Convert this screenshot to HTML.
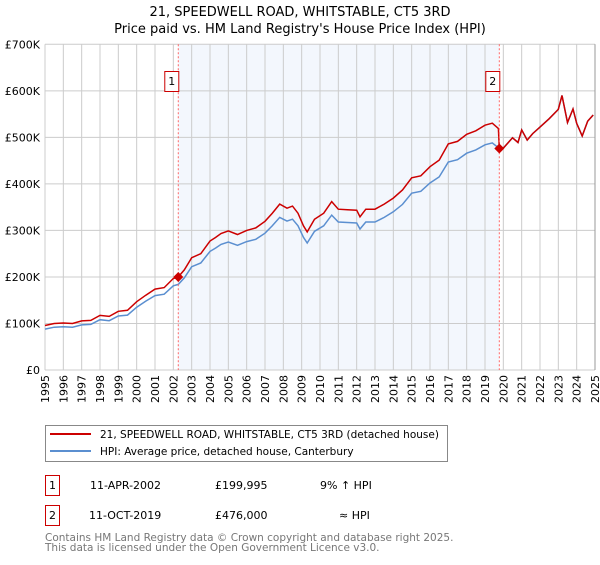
<!DOCTYPE html>
<html><head><meta charset="utf-8"><style>
body{margin:0;background:#fff;width:600px;height:560px;overflow:hidden}
svg{font-family:"DejaVu Sans","Liberation Sans",sans-serif}
</style></head><body>
<svg id="chart" width="600" height="560" xmlns="http://www.w3.org/2000/svg">
<text x="300" y="16" text-anchor="middle" font-size="13">21, SPEEDWELL ROAD, WHITSTABLE, CT5 3RD</text>
<text x="300" y="33" text-anchor="middle" font-size="13">Price paid vs. HM Land Registry's House Price Index (HPI)</text>
<g id="plot"></g>
<g>
<rect x="45.5" y="425.5" width="402" height="36" fill="#fff" stroke="#888"/>
<line x1="50" y1="434" x2="91" y2="434" stroke="#cc0000" stroke-width="2"/>
<text x="100" y="438" font-size="10.5">21, SPEEDWELL ROAD, WHITSTABLE, CT5 3RD (detached house)</text>
<line x1="50" y1="451" x2="91" y2="451" stroke="#5b8fd0" stroke-width="2"/>
<text x="100" y="455" font-size="10.5">HPI: Average price, detached house, Canterbury</text>
</g>
<g font-size="11">
<rect x="45.5" y="475.5" width="14" height="20" fill="#fff" stroke="#cc0000"/>
<text x="52.5" y="489" text-anchor="middle">1</text>
<text x="90" y="489">11-APR-2002</text><text x="215" y="489">£199,995</text><text x="320" y="489">9% ↑ HPI</text>
<rect x="45.5" y="505.5" width="14" height="20" fill="#fff" stroke="#cc0000"/>
<text x="52.5" y="519" text-anchor="middle">2</text>
<text x="89" y="519">11-OCT-2019</text><text x="215" y="519">£476,000</text><text x="339" y="519">≈ HPI</text>
</g>
<text x="45" y="541" font-size="10.5" fill="#777">Contains HM Land Registry data © Crown copyright and database right 2025.</text>
<text x="45" y="551" font-size="10.5" fill="#777">This data is licensed under the Open Government Licence v3.0.</text>
</svg>
<script>
const yTicks=[0,100,200,300,400,500,600,700];
const yTickLabels=["£0","£100K","£200K","£300K","£400K","£500K","£600K","£700K"];
const years=[1995,1996,1997,1998,1999,2000,2001,2002,2003,2004,2005,2006,2007,2008,2009,2010,2011,2012,2013,2014,2015,2016,2017,2018,2019,2020,2021,2022,2023,2024,2025];
const hpiT=[1995,1995.5,1996,1996.5,1997,1997.5,1998,1998.5,1999,1999.5,2000,2000.5,2001,2001.5,2002,2002.27,2002.6,2003,2003.5,2004,2004.3,2004.6,2005,2005.5,2006,2006.5,2007,2007.4,2007.8,2008.2,2008.5,2008.8,2009.1,2009.3,2009.7,2010.2,2010.64,2011,2011.5,2012,2012.18,2012.5,2013,2013.5,2014,2014.5,2015,2015.5,2016,2016.5,2017,2017.5,2018,2018.5,2019,2019.4,2019.78,2020,2020.5,2020.8,2021,2021.3,2021.6,2022,2022.5,2023,2023.2,2023.5,2023.8,2024,2024.3,2024.6,2024.9];
const hpiV=[88,92,93,92,97,98,108,106,116,118,135,148,160,163,181,184,198,222,230,255,262,270,275,268,276,281,294,310,328,320,324,310,285,273,298,310,333,318,317,316,303,318,318,328,340,356,380,384,402,415,447,452,466,473,484,488,476,477,499,489,516,494,508,522,540,560,590,532,561,530,503,535,548];
const sales=[{t:2002.27,v:199.995,label:"1"},{t:2019.78,v:476,label:"2"}];
const X0=45,X1=595,Y0=370,Y1=44.3;
const x=t=>X0+(t-1995)/30*(X1-X0);
const y=v=>Y0-v/700*(Y0-Y1);
const NS="http://www.w3.org/2000/svg";
const plot=document.getElementById('plot');
function mk(tag,attrs,parent){const e=document.createElementNS(NS,tag);for(const k in attrs)e.setAttribute(k,attrs[k]);(parent||plot).appendChild(e);return e;}
const shade=mk('rect',{x:x(sales[0].t),y:Y1,width:x(sales[1].t)-x(sales[0].t),height:Y0-Y1,fill:'#eef3fc',opacity:0.7});


years.forEach(yr=>{const l=mk('line',{x1:x(yr),x2:x(yr),y1:Y1,y2:Y0,stroke:'#cccccc'});


const t=mk('text',{x:0,y:0,'font-size':11,'text-anchor':'end',transform:`translate(${x(yr)+4},375) rotate(-90)`});t.textContent=yr;

});
yTicks.forEach((v,i)=>{const l=mk('line',{x1:X0,x2:X1,y1:y(v),y2:y(v),stroke:'#cccccc'});


const t=mk('text',{x:40,y:y(v)+4,'font-size':11,'text-anchor':'end'});t.textContent=yTickLabels[i];

});
const hpiAt=t=>{for(let i=1;i<hpiT.length;i++){if(t<=hpiT[i]){const f=(t-hpiT[i-1])/(hpiT[i]-hpiT[i-1]);return hpiV[i-1]+f*(hpiV[i]-hpiV[i-1]);}}return hpiV[hpiV.length-1];};
const r1=sales[0].v/hpiAt(sales[0].t), r2=sales[1].v/hpiAt(sales[1].t);
let bp='',rp='';
hpiT.forEach((t,i)=>{bp+=(i?'L':'M')+x(t).toFixed(1)+','+y(hpiV[i]).toFixed(1);});
let first=true;
hpiT.forEach((t,i)=>{if(t<sales[1].t){rp+=(first?'M':'L')+x(t).toFixed(1)+','+y(hpiV[i]*r1).toFixed(1);first=false;}});
rp+='L'+x(sales[1].t-0.05).toFixed(1)+','+y(hpiAt(sales[1].t-0.05)*r1).toFixed(1);
rp+='L'+x(sales[1].t).toFixed(1)+','+y(sales[1].v).toFixed(1);
hpiT.forEach((t,i)=>{if(t>sales[1].t)rp+='L'+x(t).toFixed(1)+','+y(hpiV[i]*r2).toFixed(1);});
const bl=mk('path',{d:bp,fill:'none',stroke:'#5b8fd0','stroke-width':1.5});


const rl=mk('path',{d:rp,fill:'none',stroke:'#cc0000','stroke-width':1.5});


sales.forEach(s=>{const l=mk('line',{x1:x(s.t),x2:x(s.t),y1:Y1,y2:Y0,stroke:'#ff6666','stroke-dasharray':'2,2'});


const px=x(s.t),py=y(s.v);
const d=mk('path',{d:`M${px},${py-5}L${px+5},${py}L${px},${py+5}L${px-5},${py}Z`,fill:'#cc0000'});


const b=mk('rect',{x:px-13.5,y:71.5,width:14,height:20,fill:'#fff',stroke:'#cc0000'});


const t=mk('text',{x:px-6.5,y:85,'font-size':11,'text-anchor':'middle'});t.textContent=s.label;

});
const ax=mk('line',{x1:X1,x2:X1,y1:Y1,y2:Y0,stroke:'#999'});


</script>
</body></html>
